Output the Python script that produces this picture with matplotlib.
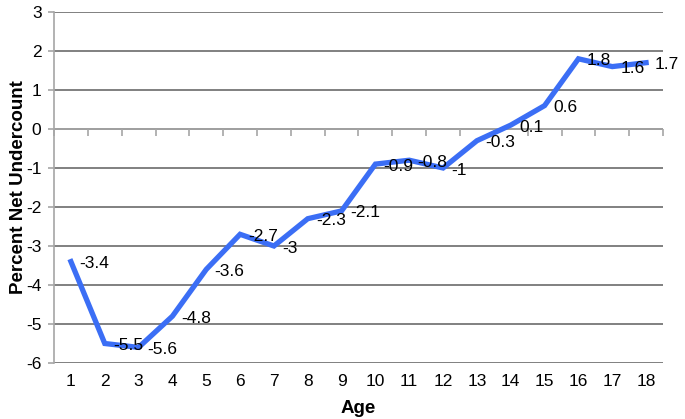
import matplotlib.pyplot as plt
import numpy as np
import matplotlib

matplotlib.rcParams['font.family'] = ['Liberation Sans', 'DejaVu Sans']
matplotlib.rcParams['axes.unicode_minus'] = False

ages = list(range(1, 19))
undercount = [-3.4, -5.5, -5.6, -4.8, -3.6, -2.7, -3, -2.3, -2.1,
              -0.9, -0.8, -1, -0.3, 0.1, 0.6, 1.8, 1.6, 1.7]
labels = ['-3.4', '-5.5', '-5.6', '-4.8', '-3.6', '-2.7', '-3', '-2.3', '-2.1',
          '-0.9', '-0.8', '-1', '-0.3', '0.1', '0.6', '1.8', '1.6', '1.7']

fig = plt.figure(figsize=(6.85, 4.19), dpi=100)
ax = fig.add_axes([54 / 685, 1 - 363 / 419, (663 - 54) / 685, (363 - 12) / 419])

ax.set_ylim(-6, 3)
ax.set_xlim(0.5, 18.5)
ax.set_yticks(range(-6, 4))
ax.yaxis.grid(True, color='#767676', linewidth=1.3)
ax.set_axisbelow(True)

ax.plot(ages, undercount, color='#3b6ef5', linewidth=3.8, solid_joinstyle='miter', zorder=3)
for x, y, t in zip(ages, undercount, labels):
    ax.annotate(t, (x, y), xytext=(6, -1.5), textcoords='offset points',
                ha='left', va='center', fontsize=12.5, zorder=4)

# category axis sits at zero, labels stay at the bottom
ax.axhline(0, color='#a6a6a6', linewidth=1.2, zorder=2)
bounds = np.arange(0.5, 19, 1)
ax.plot(bounds, np.zeros_like(bounds), linestyle='none', marker=3, markersize=5,
        color='#a6a6a6', markeredgewidth=1.2, clip_on=False, zorder=2)
ax.set_xticks(ages)
ax.tick_params(axis='x', length=0, pad=8, labelsize=12.5)
ax.tick_params(axis='y', length=4, color='#a6a6a6', width=1.2, pad=5, labelsize=12.5)

for s in ['top', 'right', 'bottom']:
    ax.spines[s].set_visible(False)
ax.spines['left'].set_color('#a6a6a6')
ax.spines['left'].set_linewidth(1.2)

ax.set_xlabel('Age', fontsize=13.5, fontweight='bold', labelpad=8)
ax.set_ylabel('Percent Net Undercount', fontsize=13.5, fontweight='bold', labelpad=-1)

fig.savefig('out.png', dpi=100)
